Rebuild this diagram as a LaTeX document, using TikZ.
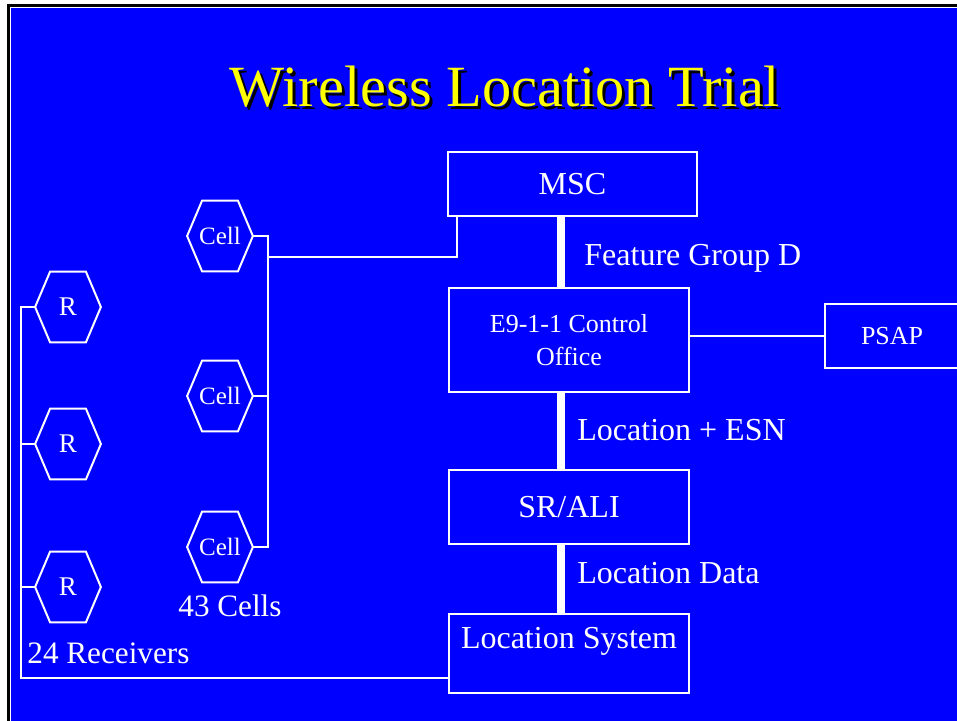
\documentclass[tikz,border=0pt]{standalone}
\usepackage{fontspec}
\setmainfont{Liberation Serif}
\usetikzlibrary{calc}
\definecolor{slideblue}{HTML}{0000FF}
\definecolor{titleyellow}{HTML}{FFFF00}

\begin{document}
\begin{tikzpicture}[x=0.5pt, y=-0.5pt,
    box/.style={draw=white, line width=1pt, inner sep=0pt, text=white},
    hexnode/.style={inner sep=0pt, minimum width=32.5pt, minimum height=35pt, text=white},
    wire/.style={draw=white, line width=1pt},
    trunk/.style={draw=white, line width=4pt},
    lbl/.style={text=white, inner sep=0pt, anchor=base west, font=\fontsize{16}{19}\selectfont}]
  \useasboundingbox (0,0) rectangle (957,721);
  \clip (0,0) rectangle (957,721);

  % slide background and frame
  \fill[white] (0,0) rectangle (957,721);
  \fill[black] (7,4) rectangle (957,721);
  \fill[white] (10,7) rectangle (957,721);
  \fill[slideblue] (11,8) rectangle (957,721);

  % title with drop shadow
  \node[font=\fontsize{29.2}{35}\selectfont, text=black, anchor=base] (titleshadow) at (508,110) {Wireless Location Trial};
  \node[font=\fontsize{29.2}{35}\selectfont, text=titleyellow, anchor=base] (title) at (505,107) {Wireless Location Trial};

  % network elements
  \node[box, minimum width=124.5pt, minimum height=32pt, font=\fontsize{16}{19}\selectfont] (msc) at (572.5,184) {MSC};
  \node[box, minimum width=120pt, minimum height=52pt, align=center, font=\fontsize{13}{16.5}\selectfont] (e911) at (569,340) {E9-1-1 Control\\Office};
  \node[box, minimum width=120pt, minimum height=37pt, font=\fontsize{16}{19}\selectfont] (srali) at (569,507) {SR/ALI};
  \node[box, minimum width=120pt, text height=17pt, text depth=22.5pt, font=\fontsize{16}{19}\selectfont] (locsys) at (569,653.5) {Location System};
  \node[box, anchor=west, minimum height=32pt, inner xsep=18pt, text width=60pt, align=left, font=\fontsize{13}{16}\selectfont] (psap) at (824,336) {PSAP};

  % cells and receivers
  \node[hexnode, font=\fontsize{12.5}{15}\selectfont] (c1) at (220,236) {Cell};
  \node[hexnode, font=\fontsize{12.5}{15}\selectfont] (c2) at (220,396) {Cell};
  \node[hexnode, font=\fontsize{12.5}{15}\selectfont] (c3) at (220,547) {Cell};
  \node[hexnode, font=\fontsize{13.5}{16}\selectfont] (r1) at (68,307) {R};
  \node[hexnode, font=\fontsize{13.5}{16}\selectfont] (r2) at (68,444) {R};
  \node[hexnode, font=\fontsize{13.5}{16}\selectfont] (r3) at (68,587) {R};
  \foreach \h in {c1,c2,c3,r1,r2,r3}
    \draw[wire] (\h.west) -- ([xshift=7.5pt]\h.north west) -- ([xshift=-7.5pt]\h.north east)
      -- (\h.east) -- ([xshift=-7.5pt]\h.south east) -- ([xshift=7.5pt]\h.south west) -- cycle;

  % links
  \coordinate (cbus) at (268,0);
  \coordinate (rbus) at (21,0);
  \coordinate (spine) at (561,0);
  \coordinate (mscdrop) at (457,257);
  \draw[wire] (c1.east) -- (c1.east -| cbus) -- (c3.east -| cbus) -- (c3.east);
  \draw[wire] (c2.east) -- (c2.east -| cbus);
  \draw[wire] (mscdrop -| cbus) -- (mscdrop) -- (mscdrop |- msc.south);
  \draw[wire] (r1.west) -- (r1.west -| rbus) |- ([yshift=-12.25pt]locsys.west);
  \draw[wire] (r2.west) -- (r2.west -| rbus);
  \draw[wire] (r3.west) -- (r3.west -| rbus);
  \draw[wire] (e911.east |- psap.west) -- (psap.west);
  \draw[trunk] (msc.south -| spine) -- (e911.north -| spine);
  \draw[trunk] (e911.south -| spine) -- (srali.north -| spine);
  \draw[trunk] (srali.south -| spine) -- (locsys.north -| spine);

  % link labels and counts
  \node[lbl] (fgd) at (584,266) {Feature Group D};
  \node[lbl] (locesn) at (577,440) {Location + ESN};
  \node[lbl] (locdata) at (577,583) {Location Data};
  \node[lbl, font=\fontsize{15.6}{18}\selectfont] (ncells) at (178,616) {43 Cells};
  \node[lbl, font=\fontsize{15.6}{18}\selectfont] (nrecv) at (27,663) {24 Receivers};
\end{tikzpicture}
\end{document}
